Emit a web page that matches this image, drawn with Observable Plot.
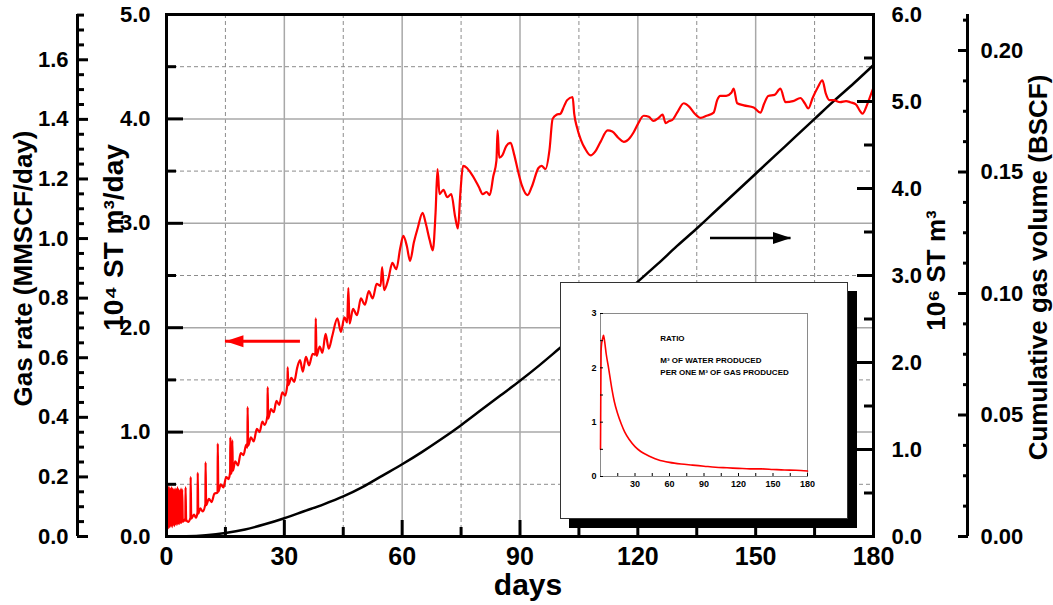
<!DOCTYPE html>
<html><head><meta charset="utf-8">
<script src="https://cdn.jsdelivr.net/npm/d3@7"></script>
<script src="https://cdn.jsdelivr.net/npm/@observablehq/plot@0.6"></script>
<style>
html,body{margin:0;padding:0;background:#fff;}
#wrap{position:relative;width:1053px;height:605px;overflow:hidden;}
#inset{position:absolute;left:560px;top:282px;width:288px;height:237px;box-sizing:border-box;border:1px solid #333;background:#fff;box-shadow:9px 9px 0 #000;}
#inset svg, #main svg{display:block;}
</style></head><body><div id="wrap"><div id="main"></div><div id="inset"></div></div>
<script>
// ---- Gas rate (10^4 ST m3/day) ----
const rateDays = [0.0,0.1,0.25,0.4,0.55,0.7,0.85,1.0,1.15,1.3,1.45,1.6,1.75,1.9,2.05,2.2,2.35,2.5,2.65,2.8,2.95,3.1,3.25,3.4,3.55,3.7,3.85,4.0,4.15,4.5,
  4.8,4.85,5.0,5.5,6.1,6.15,6.3,7.0,7.5,7.9,7.95,8.1,8.6,9.2,9.9,9.95,10.1,10.8,11.5,12.2,13.0,13.05,13.2,13.8,14.5,15.2,15.8,
  16.2,16.25,16.4,16.7,16.75,16.9,17.5,18.2,18.9,19.6,20.3,20.6,20.65,20.8,21.5,22.2,23.0,23.7,24.4,25.0,25.7,25.75,25.9,26.6,27.3,
  28.0,28.7,29.5,30.2,30.8,30.85,31.0,31.8,32.5,33.3,34.0,34.7,35.5,36.3,37.2,37.9,38.0,38.2,39.0,39.7,40.5,41.3,42.2,43.5,44.4,45.3,
  46.0,46.3,46.6,47.5,48.5,49.5,50.5,51.5,52.5,53.5,54.5,54.9,55.4,56.5,57.5,58.5,59.5,60.3,61.2,62.0,63.0,64.0,65.2,66.0,67.0,67.8,
  68.5,69.0,69.5,70.5,71.5,72.5,73.5,74.2,74.8,75.5,76.5,77.5,78.5,79.5,80.5,81.5,82.3,83.2,84.0,84.3,84.7,85.5,86.5,87.6,88.5,89.5,
  90.5,91.9,93.0,94.7,95.5,96.5,97.5,98.3,99.3,100.3,101.2,102.0,103.4,103.8,104.5,105.5,106.5,108.0,109.0,110.5,112.3,113.5,115.0,
  116.4,118.0,118.9,120.0,121.5,122.8,124.0,125.3,126.3,127.1,128.0,128.8,130.0,131.7,133.0,134.5,136.0,137.5,139.3,140.2,141.0,
  142.5,143.8,144.4,145.3,147.0,149.5,151.2,152.2,153.2,154.8,156.3,157.6,159.5,161.4,162.5,163.4,164.5,165.8,167.0,167.8,168.8,
  169.9,171.5,173.0,174.1,175.5,176.5,177.2,178.2,179.0,179.7,180.0];
const rateValues = [0.05,0.52,0.10,0.48,0.08,0.47,0.09,0.46,0.10,0.47,0.09,0.46,0.11,0.45,0.10,0.46,0.12,0.45,0.11,0.47,0.12,0.45,0.12,0.44,0.13,0.46,0.13,0.45,0.14,0.16,
  0.15,0.47,0.16,0.14,0.18,0.57,0.17,0.21,0.18,0.23,0.61,0.22,0.27,0.24,0.31,0.71,0.30,0.36,0.33,0.41,0.42,0.89,0.43,0.50,0.47,0.57,0.55,
  0.62,0.95,0.60,0.65,0.92,0.63,0.72,0.68,0.80,0.78,0.88,0.85,1.24,0.87,0.95,0.91,1.03,1.00,1.10,1.07,1.16,1.43,1.13,1.22,1.19,
  1.30,1.26,1.38,1.35,1.47,1.62,1.45,1.52,1.48,1.62,1.69,1.58,1.72,1.64,1.75,1.74,2.09,1.73,1.82,1.76,1.94,1.80,1.92,2.09,1.96,2.10,
  2.05,2.38,2.04,2.18,2.12,2.28,2.22,2.35,2.28,2.42,2.40,2.58,2.36,2.47,2.62,2.56,2.76,2.88,2.78,2.64,2.82,2.96,3.10,3.00,2.84,2.74,
  3.10,3.52,3.28,3.32,3.25,3.28,3.06,2.95,3.28,3.55,3.53,3.48,3.42,3.35,3.28,3.30,3.27,3.45,3.60,3.89,3.63,3.65,3.74,3.77,3.66,3.50,
  3.36,3.27,3.35,3.53,3.55,3.52,3.70,4.00,4.04,4.05,4.12,4.18,4.21,4.05,3.92,3.80,3.72,3.65,3.68,3.78,3.89,3.88,3.82,
  3.78,3.82,3.87,3.95,4.03,4.02,3.98,4.01,4.04,3.96,3.98,3.99,4.06,4.15,4.12,4.05,4.01,4.03,4.06,4.18,4.22,
  4.22,4.25,4.29,4.15,4.13,4.11,4.06,4.15,4.22,4.23,4.29,4.16,4.17,4.20,4.15,4.10,4.20,4.30,4.37,4.25,4.18,
  4.18,4.16,4.17,4.16,4.14,4.08,4.05,4.12,4.20,4.27,4.30];

// ---- Cumulative gas volume (10^6 ST m3) ----
const cumDays = [0,5,10,15,20,25,30,35,40,45,50,55,60,65,70,75,80,85,90,95,100,105,110,115,120,125,130,135,140,145,150,155,160,165,170,175,180];
const cumValues = [0,0.003,0.015,0.04,0.08,0.14,0.21,0.29,0.37,0.46,0.57,0.70,0.83,0.97,1.12,1.28,1.45,1.62,1.79,1.97,2.16,2.35,2.54,2.73,2.93,3.13,3.34,3.54,3.75,3.96,4.17,4.38,4.59,4.80,5.01,5.21,5.42];

// ---- Inset: m3 of water produced per m3 of gas produced ----
const ratioDays = [0,0.2,0.5,1,2,2.6,3.5,5,7,10,12,15,18,21,25,30,35,40,45,50,60,70,80,90,100,110,120,130,140,150,160,170,180];
const ratioValues = [0.5,1.3,2.3,2.45,2.55,2.6,2.5,2.25,2.0,1.6,1.38,1.15,0.97,0.82,0.68,0.55,0.46,0.40,0.35,0.31,0.26,0.23,0.21,0.19,0.17,0.16,0.15,0.14,0.14,0.13,0.12,0.115,0.10];

// ---- Tick values ----
const xMajor = [0,30,60,90,120,150,180];
const xMinor = [15,45,75,105,135,165];
const leftMajor = [0,1,2,3,4,5];
const leftMinor = [0.5,1.5,2.5,3.5,4.5];
const rightMajor = [0,1,2,3,4,5,6];
const rightMinor = [0.5,1.5,2.5,3.5,4.5,5.5];
const mmscfMajor = [0,0.2,0.4,0.6,0.8,1.0,1.2,1.4,1.6];
const mmscfMinor = [0.05,0.1,0.15,0.25,0.3,0.35,0.45,0.5,0.55,0.65,0.7,0.75,0.85,0.9,0.95,1.05,1.1,1.15,1.25,1.3,1.35,1.45,1.5,1.55,1.65,1.7,1.75];
const bscfMajor = [0,0.05,0.10,0.15,0.20];
const bscfMinor = [0.0125,0.025,0.0375,0.0625,0.075,0.0875,0.1125,0.125,0.1375,0.1625,0.175,0.1875,0.2125];
const insetXTicks = [30,60,90,120,150,180];
const insetXMinor = [15,45,75,105,135,165];
const insetYTicks = [0,1,2,3];
const insetYMinor = [0.5,1.5,2.5];
const gridSolidX = [30,60,90,120,150];
const gridDashX = [15,45,75,105,135,165];
const gridSolidY = [1,2,3,4];
const gridDashY = [0.5,1.5,2.5,3.5,4.5];

// ---- Annotations ----
const rateArrow = [{x1: 34.1, x2: 15.0, y: 1.87}];          // left-axis units
const cumArrow = [{x1: 138.5, x2: 159.0, y: 3.43}];          // right-axis units
const insetNotes = [
  {x: 52, y: 2.55, text: "RATIO"},
  {x: 52, y: 2.14, text: "M³ OF WATER PRODUCED"},
  {x: 52, y: 1.92, text: "PER ONE M³ OF GAS PRODUCED"}
];

// ---- Axis conversions ----
const RIGHT_TO_LEFT = 5 / 6;          // 10^6 m3 axis -> 10^4 m3/day axis
const MMSCF_TO_LEFT = 5 / 1.752;      // MMSCF/day axis -> 10^4 m3/day axis
const BSCF_TO_RIGHT = 27.93;          // BSCF axis -> 10^6 m3 axis

const rateTable = rateDays.map((d, i) => ({day: d, v: rateValues[i]}));
const cumTable = cumDays.map((d, i) => ({day: d, v: cumValues[i] * RIGHT_TO_LEFT}));
const ratioTable = ratioDays.map((d, i) => ({day: d, v: ratioValues[i]}));
const cumArrowT = cumArrow.map(a => ({...a, y: a.y * RIGHT_TO_LEFT}));

const headRight = {draw(ctx) { ctx.moveTo(0, 0); ctx.lineTo(-18, -6); ctx.lineTo(-18, 6); ctx.closePath(); }};

const FONT = "'Liberation Sans', Arial, Helvetica, sans-serif";
const b2l = BSCF_TO_RIGHT * RIGHT_TO_LEFT;

const main = Plot.plot({
  width: 1053, height: 605,
  marginLeft: 166, marginRight: 180, marginTop: 14, marginBottom: 69,
  x: {domain: [0, 180]},
  y: {domain: [0, 5]},
  style: {fontFamily: FONT, fontWeight: "bold", fontSize: "22px", color: "black", background: "white", overflow: "visible"},
  marks: [
    Plot.ruleX(gridDashX, {stroke: "#8c8c8c", strokeWidth: 1, strokeDasharray: "4,3"}),
    Plot.ruleX(gridSolidX, {stroke: "#a8a8a8", strokeWidth: 1.5}),
    Plot.ruleY(gridDashY, {stroke: "#8c8c8c", strokeWidth: 1, strokeDasharray: "4,3"}),
    Plot.ruleY(gridSolidY, {stroke: "#a8a8a8", strokeWidth: 1.5}),
    Plot.line(cumTable, {x: "day", y: "v", stroke: "black", strokeWidth: 2.5, curve: "monotone-x"}),
    Plot.line(rateTable, {x: "day", y: "v", stroke: "#ff0000", strokeWidth: 2.2, curve: "monotone-x"}),
    Plot.ruleY(rateArrow, {y: "y", x1: "x1", x2: "x2", stroke: "#ff0000", strokeWidth: 3}),
    Plot.dot(rateArrow, {x: "x2", y: "y", symbol: headRight, rotate: 180, fill: "#ff0000", stroke: null}),
    Plot.ruleY(cumArrowT, {y: "y", x1: "x1", x2: "x2", stroke: "black", strokeWidth: 2.5}),
    Plot.dot(cumArrowT, {x: "x2", y: "y", symbol: headRight, fill: "black", stroke: null}),
    Plot.frame({stroke: "black", strokeWidth: 3}),
    Plot.ruleX([0], {dx: -89, stroke: "black", strokeWidth: 3}),
    Plot.ruleX([180], {dx: 94, stroke: "black", strokeWidth: 3}),
    Plot.axisX({ticks: xMajor, tickSize: -16, tickPadding: 27, strokeWidth: 3, label: null, fontSize: 25, tickFormat: d => String(d)}),
    Plot.axisX({ticks: xMinor, tickSize: -9, strokeWidth: 3, label: null, tickFormat: () => ""}),
    Plot.axisY({ticks: leftMajor, anchor: "left", tickSize: -17, tickPadding: 33, strokeWidth: 3, label: null, tickFormat: d => d.toFixed(1)}),
    Plot.axisY({ticks: leftMinor, anchor: "left", tickSize: -10, strokeWidth: 3, label: null, tickFormat: () => ""}),
    Plot.axisY({ticks: rightMajor.map(v => v * RIGHT_TO_LEFT), anchor: "right", tickSize: -17, tickPadding: 35, strokeWidth: 3, label: null, tickFormat: d => (d / RIGHT_TO_LEFT).toFixed(1)}),
    Plot.axisY({ticks: rightMinor.map(v => v * RIGHT_TO_LEFT), anchor: "right", tickSize: -10, strokeWidth: 3, label: null, tickFormat: () => ""}),
    Plot.axisY({ticks: mmscfMajor.map(v => v * MMSCF_TO_LEFT), anchor: "left", dx: -89, tickSize: -11, tickPadding: 20, strokeWidth: 3, label: null, tickFormat: d => (d / MMSCF_TO_LEFT).toFixed(1)}),
    Plot.axisY({ticks: mmscfMinor.map(v => v * MMSCF_TO_LEFT), anchor: "left", dx: -89, tickSize: -7, strokeWidth: 3, label: null, tickFormat: () => ""}),
    Plot.axisY({ticks: bscfMajor.map(v => v * b2l), anchor: "right", dx: 94, tickSize: -10, tickPadding: 23, strokeWidth: 3, label: null, tickFormat: d => (d / b2l).toFixed(2)}),
    Plot.axisY({ticks: bscfMinor.map(v => v * b2l), anchor: "right", dx: 94, tickSize: -5, strokeWidth: 3, label: null, tickFormat: () => ""}),
    Plot.text(["Gas rate (MMSCF/day)"], {text: d => d, frameAnchor: "left", dx: -143, dy: -7, rotate: -90, fontSize: 26, textAnchor: "middle"}),
    Plot.text(["10⁴ ST m³/day"], {text: d => d, frameAnchor: "left", dx: -52, dy: -38, rotate: -90, fontSize: 28, textAnchor: "middle"}),
    Plot.text(["10⁶ ST m³"], {text: d => d, frameAnchor: "right", dx: 63, dy: -5, rotate: -90, fontSize: 26, textAnchor: "middle"}),
    Plot.text(["Cumulative gas volume (BSCF)"], {text: d => d, frameAnchor: "right", dx: 165, dy: -8, rotate: -90, fontSize: 26, textAnchor: "middle"}),
    Plot.text(["days"], {text: d => d, frameAnchor: "bottom", dx: 8, dy: 58, fontSize: 30, textAnchor: "middle"})
  ]
});
document.getElementById("main").appendChild(main);

const inset = Plot.plot({
  width: 286, height: 235,
  marginLeft: 39, marginTop: 30, marginRight: 40, marginBottom: 42,
  x: {domain: [0, 180]},
  y: {domain: [0, 3]},
  style: {fontFamily: FONT, fontWeight: "bold", fontSize: "9px", color: "black", background: "white"},
  marks: [
    Plot.frame({stroke: "#8a8a8a", strokeWidth: 1}),
    Plot.line(ratioTable, {x: "day", y: "v", stroke: "#ff0000", strokeWidth: 1.6, curve: "monotone-x"}),
    Plot.axisX({ticks: insetXTicks, tickSize: -3, tickPadding: 7, label: null, tickFormat: d => String(d)}),
    Plot.axisX({ticks: insetXMinor, tickSize: -3, label: null, tickFormat: () => ""}),
    Plot.axisY({ticks: insetYTicks, tickSize: -3, tickPadding: 7, label: null, tickFormat: d => String(d)}),
    Plot.axisY({ticks: insetYMinor, tickSize: -3, label: null, tickFormat: () => ""}),
    Plot.text(insetNotes, {x: "x", y: "y", text: "text", textAnchor: "start", fontSize: 8})
  ]
});
document.getElementById("inset").appendChild(inset);
</script></body></html>
